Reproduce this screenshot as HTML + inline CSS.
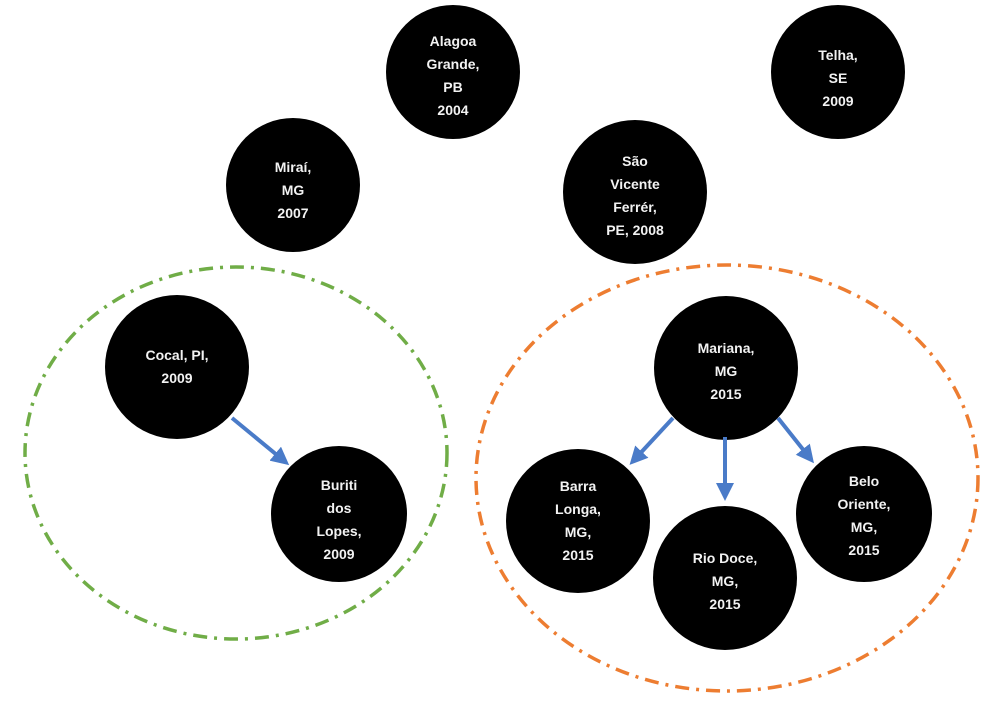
<!DOCTYPE html>
<html><head><meta charset="utf-8"><style>
html,body{margin:0;padding:0;background:#fff;width:984px;height:701px;overflow:hidden}
text{font-family:"Liberation Sans",sans-serif;font-weight:bold;font-size:14px;fill:#f2f2f2;text-anchor:middle}
</style></head><body>
<svg width="984" height="701" viewBox="0 0 984 701" xmlns="http://www.w3.org/2000/svg">
<defs><marker id="a" markerWidth="4.5" markerHeight="4.5" refX="2.5" refY="2.25" orient="auto" markerUnits="strokeWidth"><path d="M0,0 L4.5,2.25 L0,4.5 z" fill="#4a7bc8"/></marker></defs>
<ellipse cx="236" cy="453" rx="211" ry="186" fill="none" stroke="#70ad47" stroke-width="3.5" stroke-dasharray="14 7 3 7"/>
<ellipse cx="727" cy="478" rx="251" ry="213" fill="none" stroke="#ed7d31" stroke-width="3.5" stroke-dasharray="14 7 3 7"/>
<g fill="#000">
<circle cx="453" cy="72" r="67"/><circle cx="838" cy="72" r="67"/><circle cx="293" cy="185" r="67"/>
<circle cx="635" cy="192" r="72"/><circle cx="177" cy="367" r="72"/><circle cx="339" cy="514" r="68"/>
<circle cx="726" cy="368" r="72"/><circle cx="578" cy="521" r="72"/><circle cx="725" cy="578" r="72"/><circle cx="864" cy="514" r="68"/>
</g>
<g stroke="#4a7bc8" stroke-width="4" fill="none" marker-end="url(#a)">
<line x1="232" y1="418" x2="283" y2="460"/>
<line x1="673" y1="418" x2="635" y2="459"/>
<line x1="725" y1="437" x2="725" y2="493"/>
<line x1="778" y1="418" x2="809" y2="457"/>
</g>
<text x="453" y="46">Alagoa</text><text x="453" y="69">Grande,</text><text x="453" y="92">PB</text><text x="453" y="115">2004</text>
<text x="838" y="60">Telha,</text><text x="838" y="83">SE</text><text x="838" y="106">2009</text>
<text x="293" y="172">Miraí,</text><text x="293" y="195">MG</text><text x="293" y="218">2007</text>
<text x="635" y="166">São</text><text x="635" y="189">Vicente</text><text x="635" y="212">Ferrér,</text><text x="635" y="235">PE, 2008</text>
<text x="177" y="360">Cocal, PI,</text><text x="177" y="383">2009</text>
<text x="339" y="490">Buriti</text><text x="339" y="513">dos</text><text x="339" y="536">Lopes,</text><text x="339" y="559">2009</text>
<text x="726" y="353">Mariana,</text><text x="726" y="376">MG</text><text x="726" y="399">2015</text>
<text x="578" y="491">Barra</text><text x="578" y="514">Longa,</text><text x="578" y="537">MG,</text><text x="578" y="560">2015</text>
<text x="725" y="563">Rio Doce,</text><text x="725" y="586">MG,</text><text x="725" y="609">2015</text>
<text x="864" y="486">Belo</text><text x="864" y="509">Oriente,</text><text x="864" y="532">MG,</text><text x="864" y="555">2015</text>
</svg>
</body></html>
